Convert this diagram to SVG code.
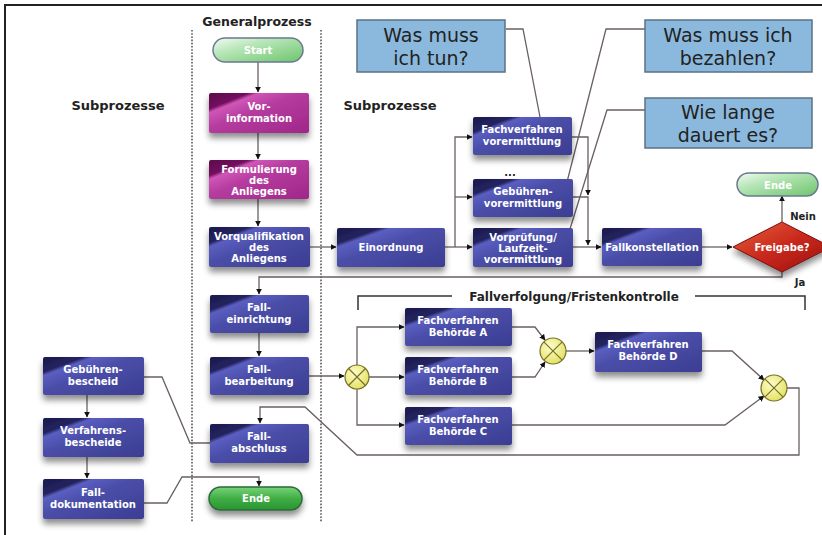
<svg xmlns="http://www.w3.org/2000/svg" width="822" height="535" viewBox="0 0 822 535">
<style>
.t{font-family:"DejaVu Sans",Verdana,sans-serif;font-weight:bold;font-size:10px;fill:#fff;text-anchor:middle}
.lbl{font-family:"DejaVu Sans",Verdana,sans-serif;font-weight:bold;fill:#222;text-anchor:middle}
.q{font-family:"DejaVu Sans",Verdana,sans-serif;font-size:19px;fill:#222;text-anchor:middle}
.c{fill:none;stroke:#6a6060;stroke-width:1.3}
.a{marker-end:url(#ar)}
.blue{fill:url(#gb);filter:url(#sh)}
.mag{fill:url(#gm);filter:url(#sh)}
.gate circle{fill:url(#gy);stroke:#77702a;stroke-width:1.2}
.gate path{stroke:#77702a;stroke-width:1.2}
.call{fill:#8bb9de;stroke:#5b7186;stroke-width:1.5}
</style>
<defs>
<marker id="ar" viewBox="0 0 10 10" refX="9" refY="5" markerWidth="6" markerHeight="6" orient="auto" markerUnits="userSpaceOnUse"><path d="M0,0 L10,5 L0,10 z" fill="#111"/></marker>
<linearGradient id="gb" x1="0" y1="0" x2="1" y2="1">
<stop offset="0" stop-color="#1b1a4e"/><stop offset="0.2" stop-color="#24235f"/><stop offset="0.25" stop-color="#5a5ec0"/><stop offset="0.45" stop-color="#4a4ea8"/><stop offset="1" stop-color="#3b3d92"/></linearGradient>
<linearGradient id="gm" x1="0" y1="0" x2="1" y2="1">
<stop offset="0" stop-color="#5a0848"/><stop offset="0.2" stop-color="#741060"/><stop offset="0.25" stop-color="#cf55b6"/><stop offset="0.45" stop-color="#b53c9f"/><stop offset="1" stop-color="#a0268a"/></linearGradient>
<linearGradient id="gg" x1="0" y1="0" x2="1" y2="1"><stop offset="0" stop-color="#f4fbf4"/><stop offset="0.35" stop-color="#b8e6b8"/><stop offset="1" stop-color="#6cc46c"/></linearGradient>
<linearGradient id="gg2" x1="0" y1="0" x2="0" y2="1"><stop offset="0" stop-color="#7ad27a"/><stop offset="0.5" stop-color="#3fae44"/><stop offset="1" stop-color="#2a9432"/></linearGradient>
<linearGradient id="gr" x1="0" y1="0" x2="1" y2="1"><stop offset="0" stop-color="#e8603a"/><stop offset="0.5" stop-color="#c8281c"/><stop offset="1" stop-color="#9a1010"/></linearGradient>
<radialGradient id="gy" cx="0.4" cy="0.35" r="0.7"><stop offset="0" stop-color="#fdfdc8"/><stop offset="1" stop-color="#e2e060"/></radialGradient>
<filter id="sh" x="-10%" y="-10%" width="120%" height="150%"><feDropShadow dx="0" dy="5" stdDeviation="3" flood-color="#000" flood-opacity="0.45"/></filter>
</defs>
<rect width="822" height="535" fill="#fff"/>
<path d="M5,535 V5 H822" fill="none" stroke="#222" stroke-width="2"/>
<g id="lanes" stroke="#555" stroke-width="1.6" stroke-dasharray="1.6,1.6" fill="none">
<path d="M192,30 V522"/><path d="M321,30 V522"/>
</g>
<g id="labels">
<text class="lbl" x="257" y="26" font-size="12.5">Generalprozess</text>
<text class="lbl" x="118" y="110" font-size="13">Subprozesse</text>
<text class="lbl" x="390" y="110" font-size="13">Subprozesse</text>
<text class="lbl" x="510" y="176" font-size="10" fill="#555">...</text>
<text class="lbl" x="803" y="220" font-size="10">Nein</text>
<text class="lbl" x="800" y="286" font-size="10">Ja</text>
</g>
<g id="connectors">
<path class="c a" d="M258,62 V92"/>
<path class="c a" d="M258,133 V159"/>
<path class="c a" d="M258,199 V226"/>
<path class="c a" d="M310,247 H336"/>
<path class="c a" d="M445,247 H472"/>
<path class="c a" d="M455,247 V137 H472"/>
<path class="c a" d="M455,197 H472"/>
<path class="c a" d="M572,137 H588 V195"/>
<path class="c a" d="M573,197 H588 V245"/>
<path class="c a" d="M573,247 H601"/>
<path class="c a" d="M702,247 H732"/>
<path class="c a" d="M782,222 V196"/>
<path class="c a" d="M782,272 V277 H259 V294"/>
<path class="c a" d="M259,333 V356"/>
<path class="c a" d="M309,376 H344"/>
<path class="c a" d="M357,365 V327 H404"/>
<path class="c a" d="M369,377 H404"/>
<path class="c a" d="M357,389 V425 H404"/>
<path class="c a" d="M512,327 H535 L545,340"/>
<path class="c a" d="M512,377 H535 L545,362"/>
<path class="c a" d="M566,351 H594" stroke-width="2"/>
<path class="c a" d="M702,351 H732 L764,380"/>
<path class="c a" d="M512,425 H725 L764,396"/>
<path class="c a" d="M787,388 H799 V455 H357 L305,407 H260 V423"/>
<path class="c a" d="M87,395 V417"/>
<path class="c a" d="M87,457 V478"/>
<path class="c" d="M144,377 H162 L190,443 H210"/>
<path class="c a" d="M144,503 H167 L182,477 H259 V486"/>
<path class="c" d="M506,29 H523 L540,117"/>
<path class="c" d="M645,29 H606 L567,182"/>
<path class="c" d="M645,110 H607 L565,245"/>
<path d="M358,310 V296 H452 M695,296 H805 V310" fill="none" stroke="#333" stroke-width="1.5"/>
<text class="lbl" x="574" y="301" font-size="12">Fallverfolgung/Fristenkontrolle</text>
</g>
<g id="start"><rect x="213" y="38" width="90" height="24" rx="12" fill="url(#gg)" stroke="#6a7a90" stroke-width="1.5"/><text class="t" x="258" y="54" fill="#eef8ee">Start</text></g>
<g id="vorinformation"><rect class="mag" x="209" y="93" width="100" height="40" rx="2"/><text class="t" x="259" y="110">Vor-</text><text class="t" x="259" y="122">information</text></g>
<g id="formulierung"><rect class="mag" x="209" y="160" width="100" height="39" rx="2"/><text class="t" x="259" y="173">Formulierung</text><text class="t" x="259" y="184">des</text><text class="t" x="259" y="195">Anliegens</text></g>
<g id="vorqualifikation"><rect class="blue" x="209" y="227" width="101" height="40" rx="2"/><text class="t" x="259" y="240">Vorqualifikation</text><text class="t" x="259" y="251">des</text><text class="t" x="259" y="262">Anliegens</text></g>
<g id="falleinrichtung"><rect class="blue" x="210" y="295" width="99" height="38" rx="2"/><text class="t" x="259" y="311">Fall-</text><text class="t" x="259" y="323">einrichtung</text></g>
<g id="fallbearbeitung"><rect class="blue" x="210" y="357" width="99" height="38" rx="2"/><text class="t" x="259" y="373">Fall-</text><text class="t" x="259" y="385">bearbeitung</text></g>
<g id="fallabschluss"><rect class="blue" x="210" y="424" width="99" height="39" rx="2"/><text class="t" x="259" y="440">Fall-</text><text class="t" x="259" y="452">abschluss</text></g>
<g id="ende"><rect x="209" y="487" width="93" height="23" rx="11.5" fill="url(#gg2)" stroke="#2d6a3a" stroke-width="1.5" filter="url(#sh)"/><text class="t" x="256" y="502" fill="#d8f4d8">Ende</text></g>
<g id="einordnung"><rect class="blue" x="337" y="228" width="108" height="39" rx="2"/><text class="t" x="391" y="251">Einordnung</text></g>
<g id="fachverfahren-vorermittlung"><rect class="blue" x="473" y="117" width="99" height="38" rx="2"/><text class="t" x="522" y="133">Fachverfahren</text><text class="t" x="522" y="145">vorermittlung</text></g>
<g id="gebuehren-vorermittlung"><rect class="blue" x="473" y="179" width="100" height="38" rx="2"/><text class="t" x="523" y="195">Gebühren-</text><text class="t" x="523" y="207">vorermittlung</text></g>
<g id="vorpruefung"><rect class="blue" x="473" y="228" width="100" height="39" rx="2"/><text class="t" x="523" y="241">Vorprüfung/</text><text class="t" x="523" y="252">Laufzeit-</text><text class="t" x="523" y="263">vorermittlung</text></g>
<g id="fallkonstellation"><rect class="blue" x="602" y="228" width="100" height="38" rx="2"/><text class="t" x="652" y="251">Fallkonstellation</text></g>
<g id="freigabe"><path d="M733,247 L782,222 L831,247 L782,272 Z" fill="url(#gr)" stroke="#7a1010" stroke-width="1" filter="url(#sh)"/><text class="t" x="782" y="251">Freigabe?</text></g>
<g id="ende-oben"><rect x="737" y="173" width="81" height="23" rx="11.5" fill="url(#gg)" stroke="#6a7a90" stroke-width="1.5"/><text class="t" x="778" y="189" fill="#eef8ee">Ende</text></g>
<g id="frage-tun"><rect class="call" x="357" y="20" width="148" height="52"/><text class="q" x="431" y="42">Was muss</text><text class="q" x="431" y="65">ich tun?</text></g>
<g id="frage-bezahlen"><rect class="call" x="645" y="20" width="167" height="52"/><text class="q" x="728" y="42">Was muss ich</text><text class="q" x="728" y="65">bezahlen?</text></g>
<g id="frage-dauer"><rect class="call" x="645" y="98" width="167" height="50"/><text class="q" x="728" y="119">Wie lange</text><text class="q" x="728" y="142">dauert es?</text></g>
<g id="gate1" class="gate"><circle cx="357" cy="377" r="12"/><path d="M348.5,368.5 L365.5,385.5 M365.5,368.5 L348.5,385.5"/></g>
<g id="fv-a"><rect class="blue" x="405" y="308" width="107" height="38" rx="2"/><text class="t" x="458" y="324">Fachverfahren</text><text class="t" x="458" y="336">Behörde A</text></g>
<g id="fv-b"><rect class="blue" x="405" y="357" width="107" height="38" rx="2"/><text class="t" x="458" y="373">Fachverfahren</text><text class="t" x="458" y="385">Behörde B</text></g>
<g id="fv-c"><rect class="blue" x="405" y="407" width="107" height="38" rx="2"/><text class="t" x="458" y="423">Fachverfahren</text><text class="t" x="458" y="435">Behörde C</text></g>
<g id="gate2" class="gate"><circle cx="553" cy="351" r="13"/><path d="M543.8,341.8 L562.2,360.2 M562.2,341.8 L543.8,360.2"/></g>
<g id="fv-d"><rect class="blue" x="595" y="332" width="107" height="40" rx="2"/><text class="t" x="648" y="348">Fachverfahren</text><text class="t" x="648" y="360">Behörde D</text></g>
<g id="gate3" class="gate"><circle cx="774" cy="388" r="13"/><path d="M764.8,378.8 L783.2,397.2 M783.2,378.8 L764.8,397.2"/></g>
<g id="gebuehrenbescheid"><rect class="blue" x="43" y="357" width="101" height="38" rx="2"/><text class="t" x="93" y="373">Gebühren-</text><text class="t" x="93" y="385">bescheid</text></g>
<g id="verfahrensbescheide"><rect class="blue" x="43" y="418" width="101" height="39" rx="2"/><text class="t" x="93" y="434">Verfahrens-</text><text class="t" x="93" y="446">bescheide</text></g>
<g id="falldokumentation"><rect class="blue" x="43" y="479" width="101" height="40" rx="2"/><text class="t" x="93" y="496">Fall-</text><text class="t" x="93" y="508">dokumentation</text></g>
</svg>
